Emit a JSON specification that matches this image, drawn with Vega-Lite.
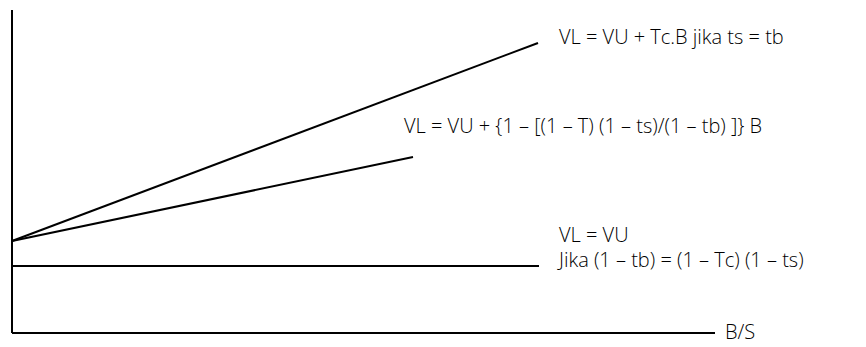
{
  "$schema": "https://vega.github.io/schema/vega-lite/v6.json",
  "width": 866,
  "height": 347,
  "padding": 0,
  "autosize": {"type": "fit", "contains": "padding"},
  "config": {"view": {"stroke": null}},
  "background": "white",
  "datasets": {
    "segments": [
      {"name": "y-axis", "x": 0, "y": 0, "x2": 0, "y2": 323},
      {"name": "x-axis", "x": 0, "y": 0, "x2": 703, "y2": 0},
      {"name": "tax-equal", "x": 0, "y": 92, "x2": 526, "y2": 290},
      {"name": "general", "x": 0, "y": 92, "x2": 401, "y2": 176},
      {"name": "no-gain", "x": 0, "y": 67, "x2": 527, "y2": 67}
    ],
    "labels": [
      {"label": "VL = VU + Tc.B jika ts = tb", "x": 547, "y": 295},
      {"label": "VL = VU + {1 – [(1 – T) (1 – ts)/(1 – tb) ]} B", "x": 392, "y": 206},
      {"label": "VL = VU", "x": 547, "y": 97},
      {"label": "Jika (1 – tb) = (1 – Tc) (1 – ts)", "x": 547, "y": 72},
      {"label": "B/S", "x": 713, "y": 0}
    ]
  },
  "layer": [
    {
      "data": {"name": "segments"},
      "mark": {"type": "rule", "color": "black", "strokeWidth": 2},
      "encoding": {
        "x": {"field": "x", "type": "quantitative", "scale": {"domain": [-12, 854], "nice": false, "zero": false}, "axis": null},
        "y": {"field": "y", "type": "quantitative", "scale": {"domain": [-14, 333], "nice": false, "zero": false}, "axis": null},
        "x2": {"field": "x2"},
        "y2": {"field": "y2"}
      }
    },
    {
      "data": {"name": "labels"},
      "mark": {"type": "text", "align": "left", "baseline": "middle", "font": "Open Sans", "fontSize": 20, "fontWeight": 300, "color": "black"},
      "encoding": {
        "x": {"field": "x", "type": "quantitative", "scale": {"domain": [-12, 854], "nice": false, "zero": false}, "axis": null},
        "y": {"field": "y", "type": "quantitative", "scale": {"domain": [-14, 333], "nice": false, "zero": false}, "axis": null},
        "text": {"field": "label"}
      }
    }
  ]
}
